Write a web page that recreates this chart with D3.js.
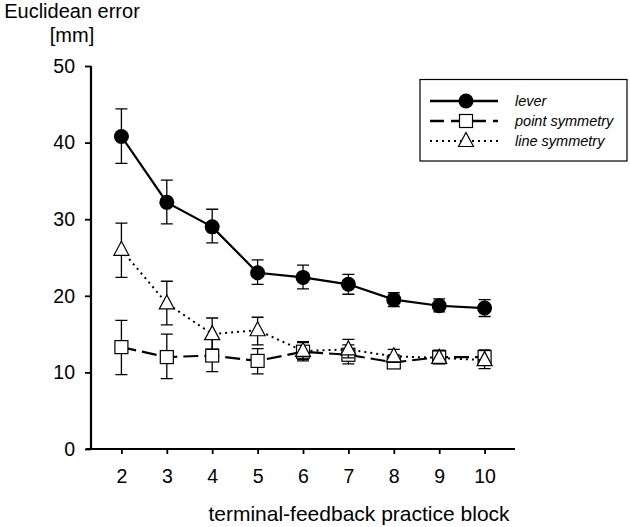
<!DOCTYPE html>
<html><head><meta charset="utf-8">
<script src="https://cdn.jsdelivr.net/npm/d3@7"></script>
<style>body{margin:0;background:#fff}svg{display:block}text{font-family:"Liberation Sans",Arial,sans-serif}</style>
</head><body><svg id="c" width="630" height="527"></svg>
<script>
const blocks = [2,3,4,5,6,7,8,9,10];
const yTicks = [0,10,20,30,40,50];
const leverMean = [40.8,32.2,29.0,23.0,22.4,21.5,19.5,18.7,18.4];
const leverHi   = [44.4,35.1,31.3,24.7,24.0,22.8,20.4,19.6,19.5];
const leverLo   = [37.3,29.4,26.9,21.5,20.9,20.2,18.6,17.9,17.3];
const pointMean = [13.3,12.0,12.2,11.5,12.7,12.3,11.3,12.0,12.0];
const pointHi   = [16.8,15.0,14.3,13.1,13.9,13.6,12.3,12.9,12.9];
const pointLo   = [9.7,9.2,10.1,9.8,11.5,11.1,10.6,11.2,11.1];
const lineMean  = [26.0,19.0,15.0,15.5,12.8,13.0,12.1,11.9,11.6];
const lineHi    = [29.5,21.9,17.1,17.2,14.0,14.3,13.0,12.8,12.9];
const lineLo    = [22.4,16.2,13.0,13.6,11.7,11.9,11.3,11.1,10.5];
const seriesNames = ["lever","point symmetry","line symmetry"];

const svg = d3.select("#c");
const x = d3.scaleLinear().domain([1.33,10.67]).range([91,515]);
const y = d3.scaleLinear().domain([0,50]).range([449,66]);

// axes
const gy = svg.append("g").attr("transform","translate(91,0)")
  .call(d3.axisLeft(y).tickValues(yTicks).tickSize(6).tickPadding(10).tickFormat(d3.format("d")));
const gx = svg.append("g").attr("transform","translate(0,449)")
  .call(d3.axisBottom(x).tickValues(blocks).tickSize(5).tickPadding(15).tickFormat(d3.format("d")));
[gx,gy].forEach(g=>{
  g.select(".domain").attr("stroke","#000").attr("stroke-width",2.2).attr("d",null);
  g.selectAll(".tick line").attr("stroke","#000").attr("stroke-width",1.8);
  g.selectAll(".tick text").attr("font-size",19.5).attr("fill","#000").attr("font-family","'Liberation Sans',Arial,sans-serif");
});
gy.select(".domain").attr("d","M0,"+y(50)+"V"+(y(0)+1));
gx.select(".domain").attr("d","M"+(x.range()[0]-5)+",0H"+x.range()[1]);

svg.append("text").attr("x",72).attr("y",18).attr("text-anchor","middle").attr("font-size",20).text("Euclidean error");
svg.append("text").attr("x",72).attr("y",42).attr("text-anchor","middle").attr("font-size",20).text("[mm]");
svg.append("text").attr("x",359).attr("y",521).attr("text-anchor","middle").attr("font-size",21).text("terminal-feedback practice block");

const series = [
  {name:seriesNames[1], mean:pointMean, hi:pointHi, lo:pointLo, dash:"15,6", marker:"square"},
  {name:seriesNames[2], mean:lineMean, hi:lineHi, lo:lineLo, dash:"2,4", marker:"triangle"},
  {name:seriesNames[0], mean:leverMean, hi:leverHi, lo:leverLo, dash:null, marker:"circle"}
];
const line = d3.line().x((d,i)=>x(blocks[i])).y(d=>y(d));

function marker(g, type, cx, cy){
  if(type==="circle") g.append("circle").attr("cx",cx).attr("cy",cy).attr("r",7.5).attr("fill","#000");
  else if(type==="square") g.append("rect").attr("x",cx-6.5).attr("y",cy-6.5).attr("width",13).attr("height",13).attr("fill","#fff").attr("stroke","#000").attr("stroke-width",1.2);
  else g.append("path").attr("d",`M${cx},${cy-8.5}L${cx+7.5},${cy+5.5}L${cx-7.5},${cy+5.5}Z`).attr("fill","#fff").attr("stroke","#000").attr("stroke-width",1.2);
}

series.forEach(s=>{
  const g = svg.append("g");
  g.append("path").attr("d",line(s.mean)).attr("fill","none").attr("stroke","#000")
    .attr("stroke-width", s.marker==="triangle"?2:2.2).attr("stroke-dasharray",s.dash);
  s.mean.forEach((m,i)=>{
    const cx = x(blocks[i]);
    g.append("path").attr("d",`M${cx},${y(s.hi[i])}V${y(s.lo[i])}M${cx-6},${y(s.hi[i])}H${cx+6}M${cx-6},${y(s.lo[i])}H${cx+6}`)
      .attr("stroke","#000").attr("stroke-width",1.3).attr("fill","none");
  });
  s.mean.forEach((m,i)=>marker(g, s.marker, x(blocks[i]), y(m)));
});

// legend
const lg = svg.append("g");
lg.append("rect").attr("x",420).attr("y",79.5).attr("width",207).attr("height",81.5).attr("fill","#fff").attr("stroke","#000").attr("stroke-width",1.2);
const legOrder = [series[2],series[0],series[1]];
legOrder.forEach((s,i)=>{
  const ly = 101 + i*20;
  lg.append("path").attr("d",`M430,${ly}H498`).attr("stroke","#000").attr("stroke-width",s.marker==="triangle"?2:2.4)
    .attr("stroke-dasharray", s.marker==="square"?"14,7":(s.dash));
  marker(lg, s.marker, 466, ly);
  lg.append("text").attr("x",515).attr("y",ly+5).attr("font-size",14.5).attr("font-style","italic").text(s.name);
});
</script></body></html>
